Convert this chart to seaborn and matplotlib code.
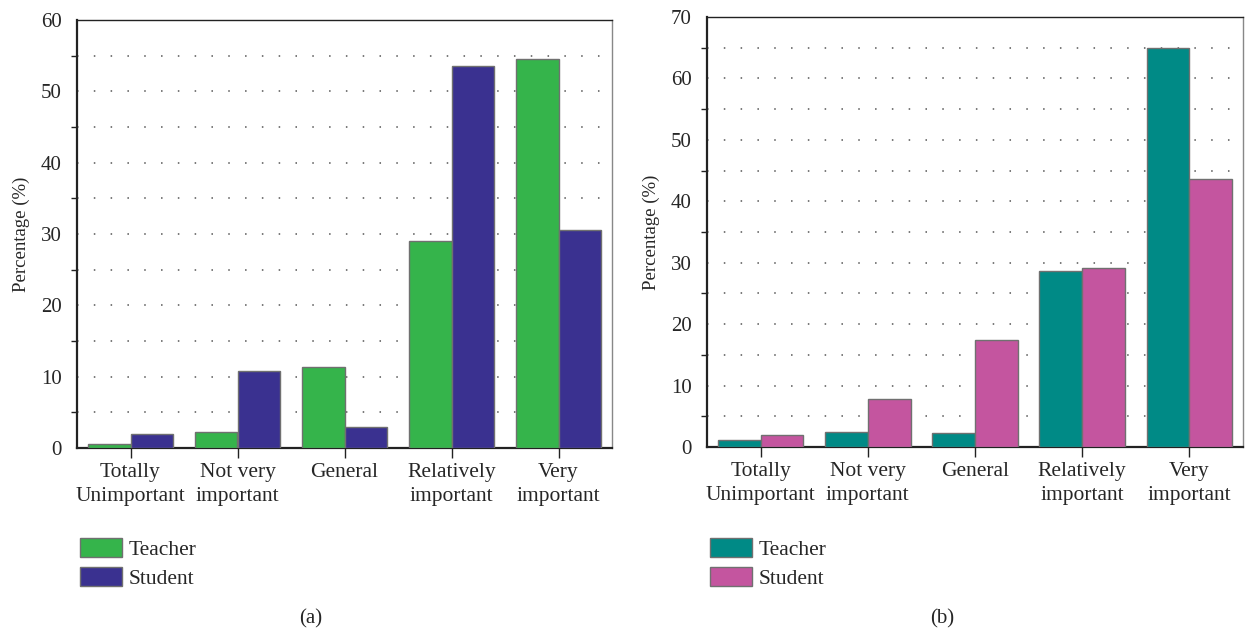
import numpy as np
import pandas as pd
import seaborn as sns
import matplotlib.pyplot as plt
from matplotlib.ticker import MultipleLocator
from matplotlib.patches import Patch

categories = ["Totally\nUnimportant", "Not very\nimportant", "General",
              "Relatively\nimportant", "Very\nimportant"]
groups = ["Teacher", "Student"]

teacher_a = [0.5, 2.3, 11.4, 29.0, 54.5]
student_a = [1.9, 10.8, 3.0, 53.5, 30.6]

teacher_b = [1.2, 2.5, 2.2, 28.6, 64.9]
student_b = [1.9, 7.8, 17.5, 29.1, 43.7]

colors_a = ["#35B44B", "#3A3190"]
colors_b = ["#008A86", "#C4559F"]

sns.set_theme(style="white")
plt.rcParams["font.family"] = ["Liberation Serif", "DejaVu Serif"]


def long_frame(teacher, student):
    return pd.DataFrame({
        "category": categories * 2,
        "group": [groups[0]] * len(categories) + [groups[1]] * len(categories),
        "value": list(teacher) + list(student),
    })


fig = plt.figure(figsize=(12.47, 6.31), dpi=100)
W, H = 1247, 631

panels = [
    dict(rect=(77, 20, 612, 448), teacher=teacher_a, student=student_a,
         colors=colors_a, ymax=60, tag="(a)", tag_x=311),
    dict(rect=(707, 17, 1243, 447), teacher=teacher_b, student=student_b,
         colors=colors_b, ymax=70, tag="(b)", tag_x=942),
]

for p in panels:
    x0, y0, x1, y1 = p["rect"]
    ax = fig.add_axes([x0 / W, 1 - y1 / H, (x1 - x0) / W, (y1 - y0) / H])
    df = long_frame(p["teacher"], p["student"])
    sns.barplot(data=df, x="category", y="value", hue="group",
                hue_order=groups, order=categories, palette=p["colors"],
                saturation=1, width=0.8, edgecolor="#707070", linewidth=1.0,
                legend=False, ax=ax, zorder=3)
    ax.set_xlim(-0.5, len(categories) - 0.5)
    ax.set_ylim(0, p["ymax"])
    ax.yaxis.set_major_locator(MultipleLocator(10))
    ax.yaxis.set_minor_locator(MultipleLocator(5))
    ax.grid(False)
    for yv in np.arange(5, p["ymax"], 5):
        ax.axhline(yv, color="#555555", linestyle=(0, (1, 10)),
                   linewidth=1.1, zorder=1)
    ax.tick_params(axis="y", which="major", direction="out", length=7,
                   width=1.2, color="#222222", labelsize=15, pad=4)
    ax.tick_params(axis="y", which="minor", direction="out", length=4,
                   width=1.0, color="#222222", left=True)
    ax.tick_params(axis="x", which="major", direction="out", length=7,
                   width=1.0, color="#222222", labelsize=15.5, pad=4,
                   bottom=True)
    ax.set_xlabel("")
    ax.set_ylabel("Percentage (%)", fontsize=13.5, labelpad=8)
    for name in ["left", "bottom"]:
        ax.spines[name].set_color("#222222")
        ax.spines[name].set_linewidth(1.6)
    ax.spines["top"].set_color("#222222")
    ax.spines["top"].set_linewidth(1.0)
    ax.spines["right"].set_color("#888888")
    ax.spines["right"].set_linewidth(1.0)
    for lbl in ax.get_xticklabels():
        lbl.set_linespacing(1.32)

    handles = [Patch(facecolor=c, edgecolor="#707070", linewidth=1.0)
               for c in p["colors"]]
    fig.legend(handles, groups, loc="upper left",
               bbox_to_anchor=((x0 + 3) / W, 1 - 538 / H),
               frameon=False, fontsize=15.5, handlelength=1.95,
               handleheight=1.0, handletextpad=0.3, labelspacing=0.33,
               borderaxespad=0, borderpad=0)
    fig.text(p["tag_x"] / W, 1 - 619 / H, p["tag"], ha="center",
             va="center", fontsize=15)

fig.savefig("out.png", dpi=100)
